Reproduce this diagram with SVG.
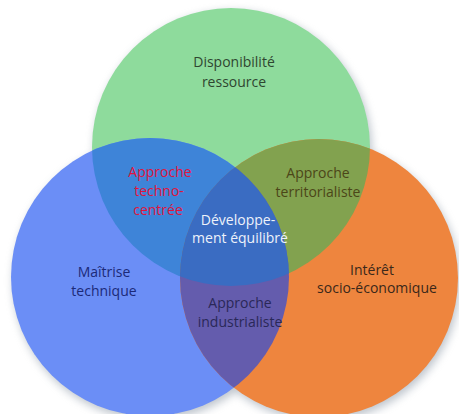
<svg xmlns="http://www.w3.org/2000/svg" width="459" height="414" viewBox="0 0 459 414">
  <style>
    text { font-family: "Open Sans", "Liberation Sans", sans-serif; font-size: 14px; text-anchor: middle; }
    .t-green { fill: #2f4630; }
    .t-red { fill: #e0143c; }
    .t-olive { fill: #4c4618; }
    .t-white { fill: #eef2fa; }
    .t-navy { fill: #1c2a78; }
    .t-indigo { fill: #2a2858; }
    .t-brown { fill: #3a281a; }
  </style>
  <defs>
    <clipPath id="clipGreen"><circle cx="231" cy="147" r="139"/></clipPath>
    <clipPath id="clipBlue"><circle cx="150" cy="277" r="139"/></clipPath>
    <clipPath id="clipOrange"><circle cx="319" cy="278" r="139"/></clipPath>
    <filter id="shadow" x="-20%" y="-20%" width="140%" height="140%">
      <feGaussianBlur stdDeviation="4"/>
    </filter>
  </defs>
  <rect width="459" height="414" fill="#ffffff"/>
  <g id="shadow-layer" fill="#8a96a4" opacity="0.55" filter="url(#shadow)">
    <circle cx="233" cy="150" r="139"/>
    <circle cx="152" cy="281" r="139"/>
    <circle cx="321" cy="282" r="139"/>
  </g>
  <g id="node-disponibilite">
    <circle cx="231" cy="147" r="139" fill="#8edb9c"/>
    <text class="t-green" x="234" y="67">Disponibilité</text>
    <text class="t-green" x="234" y="87">ressource</text>
  </g>
  <g id="node-maitrise">
    <circle cx="150" cy="277" r="139" fill="#6b8ef6"/>
    <text class="t-navy" x="104" y="277">Maîtrise</text>
    <text class="t-navy" x="104" y="296">technique</text>
  </g>
  <g id="node-interet">
    <circle cx="319" cy="278" r="139" fill="#ee853e"/>
    <text class="t-brown" x="372" y="275">Intérêt</text>
    <text class="t-brown" x="377" y="293">socio-économique</text>
  </g>
  <g id="node-techno-centree">
    <circle cx="150" cy="277" r="139" fill="#3e84d8" clip-path="url(#clipGreen)"/>
    <text class="t-red" x="160" y="177">Approche</text>
    <text class="t-red" x="159" y="196">techno-</text>
    <text class="t-red" x="158" y="215">centrée</text>
  </g>
  <g id="node-territorialiste">
    <circle cx="319" cy="278" r="139" fill="#82a24f" clip-path="url(#clipGreen)"/>
    <text class="t-olive" x="318" y="178">Approche</text>
    <text class="t-olive" x="318" y="197">territorialiste</text>
  </g>
  <g id="node-industrialiste">
    <circle cx="319" cy="278" r="139" fill="#645cad" clip-path="url(#clipBlue)"/>
    <text class="t-indigo" x="240" y="308">Approche</text>
    <text class="t-indigo" x="240" y="327">industrialiste</text>
  </g>
  <g id="node-developpement">
    <g clip-path="url(#clipBlue)">
      <circle cx="319" cy="278" r="139" fill="#3a6cc2" clip-path="url(#clipGreen)"/>
    </g>
    <text class="t-white" x="238" y="225">Développe-</text>
    <text class="t-white" x="240" y="243">ment équilibré</text>
  </g>
  <g id="connectors"/>
</svg>
